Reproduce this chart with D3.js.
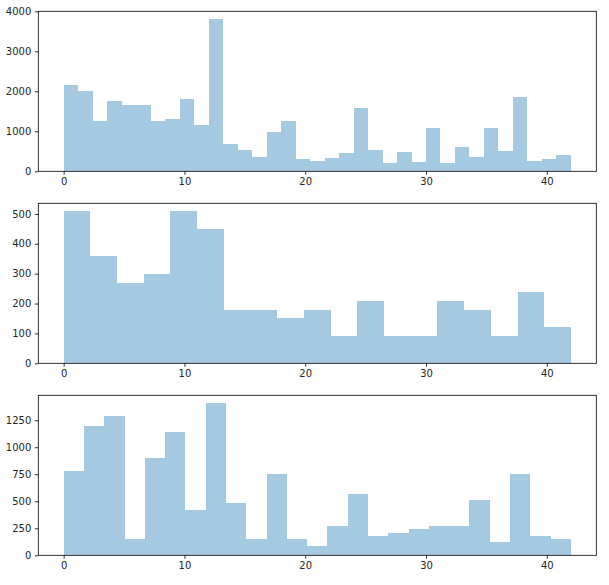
<!DOCTYPE html>
<html>
<head>
<meta charset="utf-8">
<script src="https://cdn.jsdelivr.net/npm/d3@7"></script>
<style>
  body { margin: 0; background: #fff; }
  svg { display: block; }
  .tick text { font-family: "DejaVu Sans", sans-serif; font-size: 10px; fill: #262626; }
</style>
</head>
<body>
<div id="chart"></div>
<script>
// class ids run from 0 to 42, each histogram uses equal bins over that range
var xMin = 0, xMax = 42;
var xTicks = [0, 10, 20, 30, 40];

// bin counts
var trainCounts = [2160, 2010, 1260, 1770, 1650, 1650, 1260, 1320, 1800, 1170,
                   3810, 690, 540, 360, 990, 1260, 300, 270, 330, 450,
                   1590, 540, 210, 480, 240, 1080, 210, 599, 360, 1080,
                   510, 1860, 270, 300, 420];
var validCounts = [510, 360, 270, 300, 510, 450, 180, 180, 150, 180,
                   90, 210, 90, 90, 210, 180, 90, 240, 120];
var testCounts = [780, 1200, 1290, 150, 900, 1140, 420, 1410, 480, 150,
                  750, 150, 90, 270, 570, 180, 210, 240, 270, 270,
                  510, 120, 750, 180, 150];

var trainTicks = [0, 1000, 2000, 3000, 4000];
var validTicks = [0, 100, 200, 300, 400, 500];
var testTicks = [0, 250, 500, 750, 1000, 1250];

var width = 609, height = 585;
var left = 38.3, right = 596.3, panelH = 160;
var panelTops = [11.3, 203.3, 395.3];
var barColor = "rgb(165,201,225)";

var svg = d3.select("#chart").append("svg")
    .attr("width", width)
    .attr("height", height);

var pad = (xMax - xMin) * 0.05;
var x = d3.scaleLinear()
    .domain([xMin - pad, xMax + pad])
    .range([left, right]);

function drawPanel(counts, yTicks, top)
{
    var n = counts.length;
    var binW = (xMax - xMin) / n;
    var bins = counts.map(function(c, i) {
        return { x0: xMin + i * binW, x1: xMin + (i + 1) * binW, count: c };
    });

    var y = d3.scaleLinear()
        .domain([0, d3.max(counts) * 1.05])
        .range([top + panelH, top]);

    var g = svg.append("g");

    // one path for all bars so there are no seams between neighbours
    var path = d3.path();
    bins.forEach(function(d) {
        path.rect(x(d.x0), y(d.count), x(d.x1) - x(d.x0), y(0) - y(d.count));
    });
    g.append("path")
        .attr("d", path.toString())
        .attr("fill", barColor)
        .attr("shape-rendering", "crispEdges");

    var xAxis = g.append("g")
        .attr("transform", "translate(0," + (top + panelH) + ")")
        .call(d3.axisBottom(x).tickValues(xTicks).tickFormat(d3.format("d"))
            .tickSize(3.5).tickPadding(3.5));
    xAxis.select(".domain").remove();

    var yAxis = g.append("g")
        .attr("transform", "translate(" + left + ",0)")
        .call(d3.axisLeft(y).tickValues(yTicks).tickFormat(d3.format("d"))
            .tickSize(3.5).tickPadding(3.5));
    yAxis.select(".domain").remove();

    g.selectAll(".tick line").attr("stroke", "#000").attr("stroke-width", 0.8);

    // frame round the plot area
    g.append("rect")
        .attr("x", left)
        .attr("y", top)
        .attr("width", right - left)
        .attr("height", panelH)
        .attr("fill", "none")
        .attr("stroke", "#000")
        .attr("stroke-width", 0.8);
}

drawPanel(trainCounts, trainTicks, panelTops[0]);
drawPanel(validCounts, validTicks, panelTops[1]);
drawPanel(testCounts, testTicks, panelTops[2]);
</script>
</body>
</html>
